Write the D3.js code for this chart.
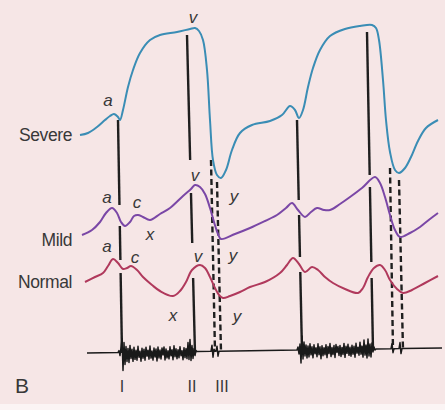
<!DOCTYPE html>
<html>
<head>
<meta charset="utf-8">
<script src="https://cdn.jsdelivr.net/npm/d3@7"></script>
<style>
  html, body { margin: 0; padding: 0; background: #fbf4f4; }
  svg { display: block; }
</style>
</head>
<body>
<svg id="chart" width="445" height="410"></svg>
<script>
// ---- DATA (time in arbitrary units, level in arbitrary units) ----
const severe = [[0,265],[8,267],[17,273],[25,280],[30,284],[34,286],[38,283],[40,280],[43,290],[48,313],[53,330],[60,347],[70,360],[80,365],[97,368],[110,371],[115,372],[119,369],[123,360],[127,330],[130,280],[133,240],[137,225],[141,222],[146,230],[152,250],[160,267],[172,275],[190,279],[202,285],[210,294],[215,290],[219,282],[223,290],[228,313],[233,332],[240,350],[250,364],[265,371],[280,374],[292,375],[296,372],[299,360],[303,320],[306,280],[310,248],[315,230],[319,227],[325,232],[331,243],[338,259],[346,272],[358,280]];
const mild = [[2,165],[12,170],[20,178],[26,187],[32,192],[37,187],[41,178],[45,174],[50,178],[54,184],[58,185],[63,183],[70,180],[80,186],[90,192],[103,204],[111,211],[115,215],[120,213],[125,206],[130,192],[134,178],[138,166],[141,161],[155,166],[170,172],[185,179],[197,185],[206,192],[212,197],[218,190],[225,183],[231,188],[237,192],[244,190],[250,190],[260,196],[270,203],[282,212],[295,223],[300,217],[305,203],[310,185],[315,170],[320,163],[330,167],[340,173],[350,181],[358,187]];
const normal = [[5,118],[15,123],[23,127],[28,134],[33,141],[38,137],[43,131],[47,132],[51,134],[57,130],[63,123],[72,115],[80,109],[93,104],[100,109],[106,118],[112,130],[120,135],[125,132],[130,123],[135,112],[139,105],[143,102],[150,104],[160,108],[170,113],[185,118],[200,127],[207,135],[213,142],[219,136],[225,128],[232,133],[238,130],[245,123],[253,117],[265,111],[278,107],[283,112],[288,123],[294,132],[300,135],[305,130],[310,120],[317,111],[323,107],[332,110],[345,117],[358,124]];

// solid timing lines: top point, bottom point, visible level ranges
const solidMarkers = [
  { top: [38,280],  bottom: [42,47],  segs: [[280,195],[174,140],[127,47]] },
  { top: [107,365], bottom: [115,47], segs: [[365,240],[207,157],[122,47]] },
  { top: [217,280], bottom: [222,48], segs: [[280,200],[185,143],[128,48]] },
  { top: [287,368], bottom: [293,50], segs: [[368,225],[213,138],[122,50]] }
];
// dashed timing lines
const dashedMarkers = [
  { top: [131,240], bottom: [135,48] },
  { top: [137,218], bottom: [141,48] },
  { top: [310,232], bottom: [313,50] },
  { top: [319,220], bottom: [323,50] }
];

// phonocardiogram
const phonoBase = [[7,47],[362,52]];
const murmurs = [
  { start: 38, step: 1, offsets: [0,2,-3,5,14,-18,10,-12,6,-9,4,-10,7,-6,3,-9,5,-7,2,-8,6,-5,1,-9,4,-6,3,-8,5,-4,2,-7,6,-6,1,-8,4,-5,3,-9,5,-6,2,-7,4,-3,5,-8,3,-6,1,-7,5,-4,2,-8,6,-5,3,-7,2,-6,5,-4,1,-8,4,-6,3,-7,9,-8,12,-9,6,-7,3,-4,1,0] },
  { start: 217, step: 1, offsets: [0,3,-4,6,-13,14,-9,8,-6,5,-8,4,-7,6,-5,3,-8,5,-4,2,-7,6,-5,3,-9,4,-6,2,-5,5,-8,3,-4,6,-7,2,-5,4,-8,5,-3,3,-6,4,-7,2,-5,6,-8,3,-4,5,-6,2,-7,4,-5,3,-8,6,-4,2,-6,7,-5,3,-8,9,-6,4,-9,10,-7,5,-8,6,-3,2,-1,0] }
];
const blips = [
  { start: 131, step: 1, offsets: [0,6,-6,2,0] },
  { start: 136, step: 1, offsets: [0,5,-5,0] },
  { start: 311, step: 1, offsets: [0,5,-4,0] },
  { start: 319, step: 1, offsets: [0,6,-5,0] }
];

const traceLabels = [
  { text: "Severe", t: -8, h: 265 },
  { text: "Mild",   t: -8, h: 160 },
  { text: "Normal", t: -8, h: 118 }
];
const waveLabels = [
  { text: "a", t: 28, h: 300 }, { text: "v", t: 113, h: 383 },
  { text: "a", t: 27, h: 203 }, { text: "c", t: 57, h: 198 }, { text: "x", t: 70, h: 166 },
  { text: "v", t: 115, h: 225 }, { text: "y", t: 154, h: 204 },
  { text: "a", t: 27, h: 154 }, { text: "c", t: 55, h: 143 }, { text: "v", t: 118, h: 144 },
  { text: "y", t: 153, h: 145 }, { text: "x", t: 93, h: 85 }, { text: "y", t: 157, h: 84 }
];
const soundLabels = [
  { text: "I", t: 42, h: 14 }, { text: "II", t: 112, h: 14 }, { text: "III", t: 142, h: 14 }
];
const panelLabel = { text: "B", t: -58, h: 14 };

// ---- SCALES ----
const x = d3.scaleLinear().domain([0, 360]).range([80, 440]);
const y = d3.scaleLinear().domain([0, 400]).range([400, 0]);

const svg = d3.select("#chart");
svg.append("rect").attr("x", 0).attr("y", 0).attr("width", 445).attr("height", 404).attr("fill", "#f6e6e6");

const line = d3.line().x(d => x(d[0])).y(d => y(d[1]));
const smooth = d3.line().x(d => x(d[0])).y(d => y(d[1])).curve(d3.curveCatmullRom.alpha(0.5));

// solid markers, in pieces
const gSolid = svg.append("g").attr("stroke", "#1f1f1f").attr("stroke-width", 2.4).attr("fill", "none");
solidMarkers.forEach(m => {
  const tAt = h => m.top[0] + (m.bottom[0] - m.top[0]) * (m.top[1] - h) / (m.top[1] - m.bottom[1]);
  m.segs.forEach(s => {
    gSolid.append("path").attr("d", line([[tAt(s[0]), s[0]], [tAt(s[1]), s[1]]]));
  });
});

// dashed markers
const gDash = svg.append("g").attr("stroke", "#1f1f1f").attr("stroke-width", 2.4)
  .attr("stroke-dasharray", "6,3.5").attr("fill", "none");
dashedMarkers.forEach(m => gDash.append("path").attr("d", line([m.top, m.bottom])));

// phonocardiogram trace
const baseAt = t => phonoBase[0][1] + (phonoBase[1][1] - phonoBase[0][1]) * (t - phonoBase[0][0]) / (phonoBase[1][0] - phonoBase[0][0]);
let phono = [[phonoBase[0][0], phonoBase[0][1]]];
murmurs.concat(blips).sort((a, b) => a.start - b.start).forEach(m => {
  m.offsets.forEach((o, i) => {
    const t = m.start + i * m.step;
    phono.push([t, baseAt(t) + o]);
  });
});
phono.push([phonoBase[1][0], phonoBase[1][1]]);
svg.append("path").attr("d", line(phono)).attr("fill", "none")
  .attr("stroke", "#1a1a1a").attr("stroke-width", 1.5).attr("stroke-linejoin", "round");

// pressure traces
[[severe, "#3a8db5"], [mild, "#7a47a6"], [normal, "#b0395c"]].forEach(([d, c]) => {
  svg.append("path").attr("d", smooth(d)).attr("fill", "none")
    .attr("stroke", c).attr("stroke-width", 2).attr("stroke-linejoin", "round");
});

// labels
const font = "'Liberation Sans', Arial, sans-serif";
svg.selectAll("text.trace").data(traceLabels).join("text")
  .attr("x", d => x(d.t)).attr("y", d => y(d.h)).attr("dy", "0.35em")
  .attr("text-anchor", "end").attr("font-family", font).attr("font-size", 17.5)
  .attr("letter-spacing", "-0.4").attr("fill", "#383838").text(d => d.text);

svg.selectAll("text.wave").data(waveLabels).join("text")
  .attr("x", d => x(d.t)).attr("y", d => y(d.h)).attr("dy", "0.35em")
  .attr("text-anchor", "middle").attr("font-family", font).attr("font-style", "italic")
  .attr("font-size", 17).attr("fill", "#383838").text(d => d.text);

svg.selectAll("text.sound").data(soundLabels).join("text")
  .attr("x", d => x(d.t)).attr("y", d => y(d.h)).attr("dy", "0.35em")
  .attr("text-anchor", "middle").attr("font-family", font)
  .attr("font-size", 16).attr("fill", "#383838").text(d => d.text);

svg.append("text").attr("x", x(panelLabel.t)).attr("y", y(panelLabel.h)).attr("dy", "0.35em")
  .attr("text-anchor", "middle").attr("font-family", font).attr("font-size", 21)
  .attr("fill", "#383838").text(panelLabel.text);
</script>
</body>
</html>
